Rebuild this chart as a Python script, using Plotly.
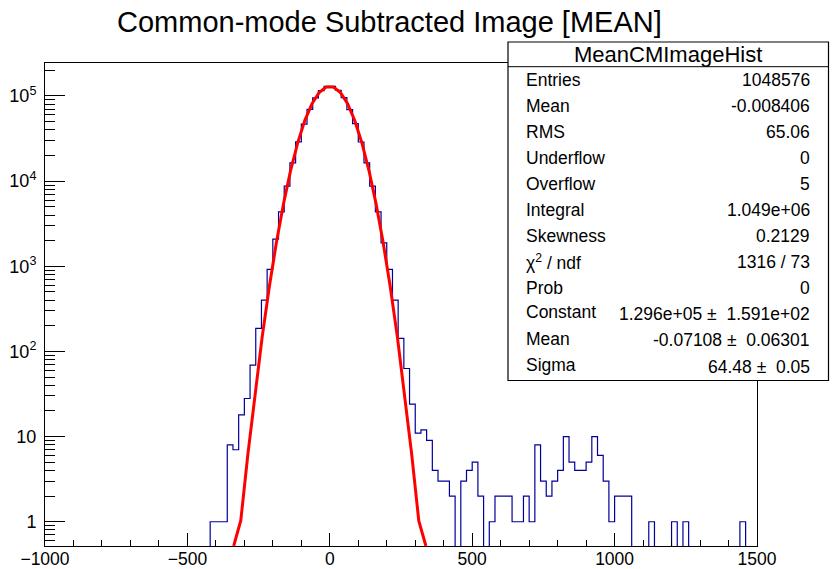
import numpy as np
import plotly.graph_objects as go

# ---------------- data ----------------
BIN_LO = -1000
BIN_W = 20
counts = [
    0, 0, 0, 0, 0, 0, 0, 0, 0, 0,                 # -1000 .. -820
    0, 0, 0, 0, 0, 0, 0, 0, 0, 0,                 # -800 .. -620
    0, 0, 0, 0, 0, 0, 0, 0, 0, 1,                 # -600 .. -420
    1, 1, 8, 7, 18, 28, 69, 186, 400, 917,        # -400 .. -220
    2080, 4350, 8710, 16400, 28900, 46600, 69400, 94800, 115700, 129800,  # -200 .. -20
    129600, 116700, 95800, 69200, 47400, 28800, 16400, 8710, 4350, 1880,  # 0 .. 180
    917, 400, 142, 63, 24, 11, 12, 9, 4, 3,       # 200 .. 380
    3, 2, 0, 3, 4, 5, 2, 0, 1, 2,                 # 400 .. 580
    2, 2, 1, 1, 2, 1, 8, 3, 2, 3,                 # 600 .. 780
    4, 10, 5, 4, 4, 5, 10, 6, 3, 1,               # 800 .. 980
    2, 2, 2, 0, 0, 0, 1, 0, 0, 0,                 # 1000 .. 1180
    1, 0, 1, 0, 0, 0, 0, 0, 0, 0,                 # 1200 .. 1380
    0, 0, 1, 0, 0,                                # 1400 .. 1480
]

# Gaussian fit parameters (from the stats box)
FIT_CONST = 1.296e5
FIT_MEAN = -0.07108
FIT_SIGMA = 64.48
FIT_NPX = 100

title_text = "Common-mode Subtracted Image [MEAN]"
stats_name = "MeanCMImageHist"
stat_labels = ["Entries", "Mean", "RMS", "Underflow", "Overflow", "Integral",
               "Skewness", "\u03c7<sup>2</sup> / ndf", "Prob", "Constant", "Mean", "Sigma"]
stat_values = ["1048576", "-0.008406", "65.06", "0", "5", "1.049e+06",
               "0.2129", "1316 / 73", "0", "1.296e+05 \u00b1  1.591e+02",
               "-0.07108 \u00b1  0.06301", "64.48 \u00b1  0.05"]

x_tickvals = [-1000, -500, 0, 500, 1000, 1500]
y_tickvals = [1, 10, 100, 1000, 10000, 100000]
y_ticktext = ["1", "10", "10<sup>2</sup>", "10<sup>3</sup>", "10<sup>4</sup>", "10<sup>5</sup>"]

# ---------------- layout geometry ----------------
W, H = 838, 569
PL, PR, PT, PB = 45, 757, 63, 546          # plot area in pixels
XR = [-1000, 1500]
YR = [-0.285, 5.387]                        # log10 range
YMIN_VAL = 10 ** YR[0]

FONT = "Liberation Sans, Arial, Helvetica, sans-serif"


def px_x(p):
    return (p - PL) / (PR - PL)


def px_y(p):
    return (PB - p) / (PB - PT)


# ---------------- histogram step line ----------------
counts_arr = np.array(counts, dtype=float)
nb = len(counts_arr)
edges = BIN_LO + BIN_W * np.arange(nb + 1)
y_hist = np.where(counts_arr > 0, counts_arr, YMIN_VAL * 0.05)
x_step = edges
y_step = np.append(y_hist, y_hist[-1])

# ---------------- fit curve ----------------
dx = (XR[1] - XR[0]) / FIT_NPX
xf = XR[0] + dx * (np.arange(FIT_NPX) + 0.5)
gf = FIT_CONST * np.exp(-0.5 * ((xf - FIT_MEAN) / FIT_SIGMA) ** 2)
inside = np.where(gf >= YMIN_VAL)[0]
i0, i1 = max(inside[0] - 1, 0), min(inside[-1] + 1, FIT_NPX - 1)
xf = xf[i0:i1 + 1]
gf = np.maximum(gf[i0:i1 + 1], YMIN_VAL)

fig = go.Figure()
fig.add_trace(go.Scatter(x=x_step, y=y_step, mode="lines", line_shape="hv",
                         line=dict(color="#000099", width=1.2), hoverinfo="skip"))
fig.add_trace(go.Scatter(x=xf, y=gf, mode="lines",
                         line=dict(color="#ff0000", width=3), hoverinfo="skip"))

# minor tick positions on log axis
y_minor = [m * 10 ** k for k in range(-1, 6) for m in range(2, 10)]

fig.update_layout(
    width=W, height=H,
    margin=dict(l=PL, r=W - PR, t=PT, b=H - PB, pad=0),
    paper_bgcolor="white", plot_bgcolor="white",
    showlegend=False,
    font=dict(family=FONT, color="black"),
    xaxis=dict(range=XR, showgrid=False, zeroline=False,
               showline=True, linecolor="black", linewidth=1, mirror=True,
               tickmode="array", tickvals=x_tickvals,
               ticks="inside", ticklen=13, tickwidth=1, tickcolor="black",
               tickfont=dict(size=17.5, family=FONT),
               ticklabelstandoff=-3,
               minor=dict(dtick=100, tick0=-1000, ticks="inside", ticklen=6,
                          tickwidth=1, tickcolor="black", showgrid=False),
               automargin=False),
    yaxis=dict(type="log", range=YR, showgrid=False, zeroline=False,
               showline=True, linecolor="black", linewidth=1, mirror=True,
               tickmode="array", tickvals=y_tickvals, ticktext=y_ticktext,
               ticks="inside", ticklen=20, tickwidth=1, tickcolor="black",
               tickfont=dict(size=18, family=FONT),
               ticklabelstandoff=4,
               minor=dict(tickmode="array", tickvals=y_minor, ticks="inside", ticklen=10,
                          tickwidth=1, tickcolor="black", showgrid=False),
               automargin=False),
)

# title
annotations = [dict(text=title_text, x=px_x(389), y=px_y(22), xref="paper", yref="paper",
                    xanchor="center", yanchor="middle", showarrow=False,
                    font=dict(size=29, family=FONT, color="black"))]

# stats box
BOX_L, BOX_R, BOX_T, BOX_B, HDR_B = 508, 828.5, 42, 380.5, 66.7
shapes = [
    dict(type="rect", xref="paper", yref="paper",
         x0=px_x(BOX_L), x1=px_x(BOX_R), y0=px_y(BOX_B), y1=px_y(BOX_T),
         fillcolor="white", line=dict(color="black", width=1.2), layer="above"),
    dict(type="line", xref="paper", yref="paper",
         x0=px_x(BOX_L), x1=px_x(BOX_R), y0=px_y(HDR_B), y1=px_y(HDR_B),
         line=dict(color="black", width=1), layer="above"),
]
annotations.append(dict(text=stats_name, x=px_x((BOX_L + BOX_R) / 2), y=px_y(54),
                        xref="paper", yref="paper", xanchor="center", yanchor="middle",
                        showarrow=False, font=dict(size=22, family=FONT, color="black")))
ROW0, ROWSTEP = 79.5, 26.1
LABEL_LIFT = [0, 0, 0, 0, 0, 0, 0, 0, 0, 2.5, 2, 2]   # ROOT draws fit-parameter names slightly higher
for i, (lab, val) in enumerate(zip(stat_labels, stat_values)):
    yy = ROW0 + ROWSTEP * i
    annotations.append(dict(text=lab, x=px_x(524), y=px_y(yy - LABEL_LIFT[i]),
                            xref="paper", yref="paper",
                            xanchor="left", yanchor="middle", showarrow=False,
                            font=dict(size=17.5, family=FONT, color="black")))
    annotations.append(dict(text=val, x=px_x(812), y=px_y(yy), xref="paper", yref="paper",
                            xanchor="right", yanchor="middle", showarrow=False,
                            font=dict(size=17.5, family=FONT, color="black")))

fig.update_layout(shapes=shapes, annotations=annotations)
fig.write_html("out.html")
